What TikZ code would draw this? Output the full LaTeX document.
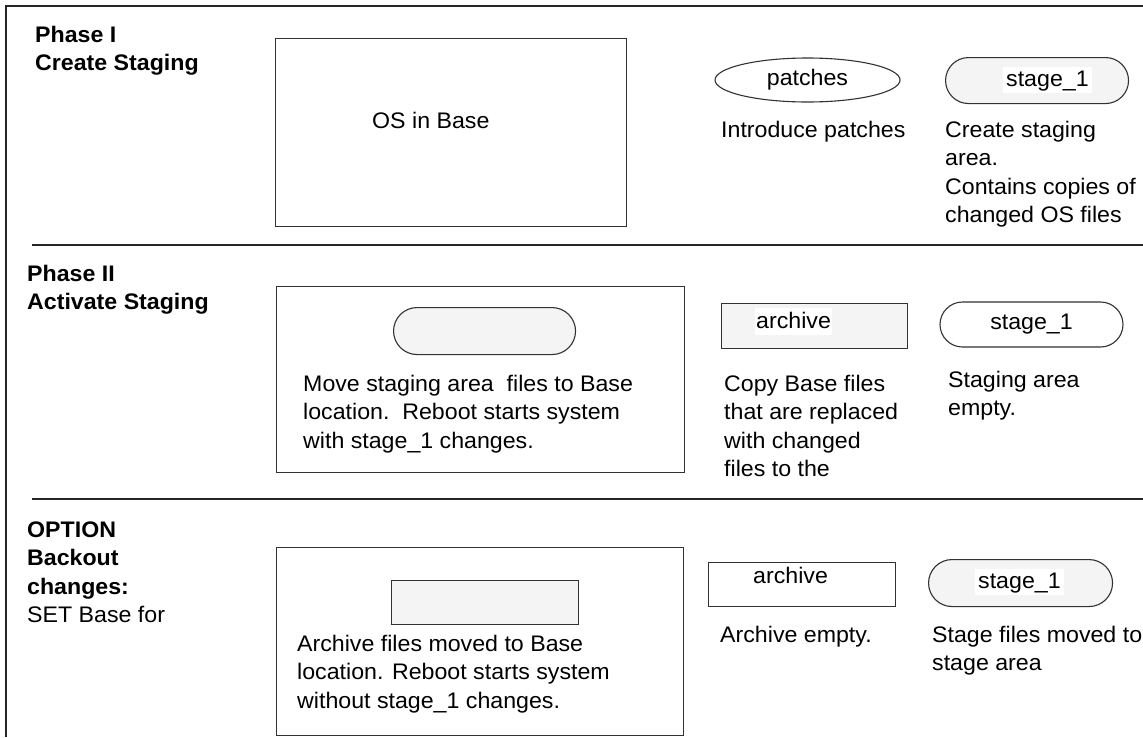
\documentclass[tikz,border=0pt]{standalone}
\usepackage{fontspec}
\setmainfont{Liberation Sans}[FakeStretch=1.03]
\usetikzlibrary{shapes.geometric}
\definecolor{lightfill}{RGB}{244,244,244}
\definecolor{edge}{RGB}{50,50,50}
\begin{document}
\begin{tikzpicture}[x=1pt,y=-1pt,
  every node/.style={font=\fontsize{22.5}{28.5}\selectfont},
  txt/.style={anchor=north west, inner sep=0pt, align=left},
  frame/.style={draw=edge, line width=1.1pt, anchor=north west, inner sep=0pt},
  graybox/.style={frame, fill=lightfill},
  whitebox/.style={frame, fill=white},
  pill/.style={rounded corners=#1},
  tag/.style={anchor=base west, fill=white, inner ysep=0pt, inner xsep=3pt, text height=19pt, text depth=7pt}
]
\useasboundingbox (0,0) rectangle (1143,737);
\fill[white] (0,0) rectangle (1143,737);
% outer frame and separators
\draw[line width=2pt, black!85] (6,737) -- (6,6) -- (1143,6);
\draw[line width=1.4pt, black!85] (32,245) -- (1143,245);
\draw[line width=1.4pt, black!85] (32,499) -- (1143,499);

% ---------- Phase I ----------
\node[txt] (ph1) at (35,25.7) {\bfseries Phase I\\\bfseries Create Staging};
\node[whitebox, minimum width=351pt, minimum height=188pt] (osbox) at (275,38) {};
\node[anchor=base west, inner sep=0pt] (ostext) at (372,128) {OS in Base};
\node[ellipse, draw=edge, line width=1.1pt, fill=white, minimum width=185pt, minimum height=44pt, inner sep=0pt] (patches) at (807.5,80) {patches};
\node[graybox, pill=23pt, minimum width=183pt, minimum height=46pt] (stageA) at (945,57) {};
\node[tag] (stageAlbl) at (1003,86) {stage\_1};
\node[txt] (intro) at (721,120.7) {Introduce patches};
\node[txt] (create) at (945,120.7) {Create staging\\area.\\Contains copies of\\changed OS files};

% ---------- Phase II ----------
\node[txt] (ph2) at (27,264.6) {\bfseries Phase II\\\bfseries Activate Staging};
\node[whitebox, minimum width=408pt, minimum height=186pt] (boxB) at (276,286) {};
\node[graybox, pill=23.5pt, minimum width=182pt, minimum height=47pt] (pillB) at (393,307) {};
\node[txt] (move) at (303,374.6) {Move staging area\ \ files to Base\\location.\ \ Reboot starts system\\with stage\_1 changes.};
\node[graybox, minimum width=186pt, minimum height=45pt] (archB) at (721,303) {};
\node[tag, inner xsep=1pt, text height=20pt] (archBlbl) at (755,328) {archive};
\node[draw=edge, line width=1.1pt, fill=white, rounded corners=22.5pt, minimum width=183pt, minimum height=45pt, inner sep=0pt] (stageB) at (1031.5,324.5) {stage\_1};
\node[txt] (copy) at (724,374.6) {Copy Base files\\that are replaced\\with changed\\files to the};
\node[txt] (staging) at (948,370.6) {Staging area\\empty.};

% ---------- Option ----------
\node[txt] (ph3) at (27,521.5) {\bfseries OPTION\\\bfseries Backout\\\bfseries changes:\\SET Base for};
\node[whitebox, minimum width=407pt, minimum height=188pt] (boxC) at (276,547) {};
\node[graybox, minimum width=187pt, minimum height=44pt] (rectC) at (391,580) {};
\node[txt] (archfiles) at (297,634.6) {Archive files moved to Base\\location. Reboot starts system\\without stage\_1 changes.};
\node[whitebox, minimum width=187pt, minimum height=44pt] (archC) at (708,562) {};
\node[anchor=base west, inner sep=0pt] (archClbl) at (753,583) {archive};
\node[graybox, pill=23.5pt, minimum width=184pt, minimum height=47pt] (stageC) at (928,559) {};
\node[tag] (stageClbl) at (975,588) {stage\_1};
\node[txt] (archempty) at (720,625.6) {Archive empty.};
\node[txt] (stagefiles) at (932,625.6) {Stage files moved to\\stage area};
\end{tikzpicture}
\end{document}
